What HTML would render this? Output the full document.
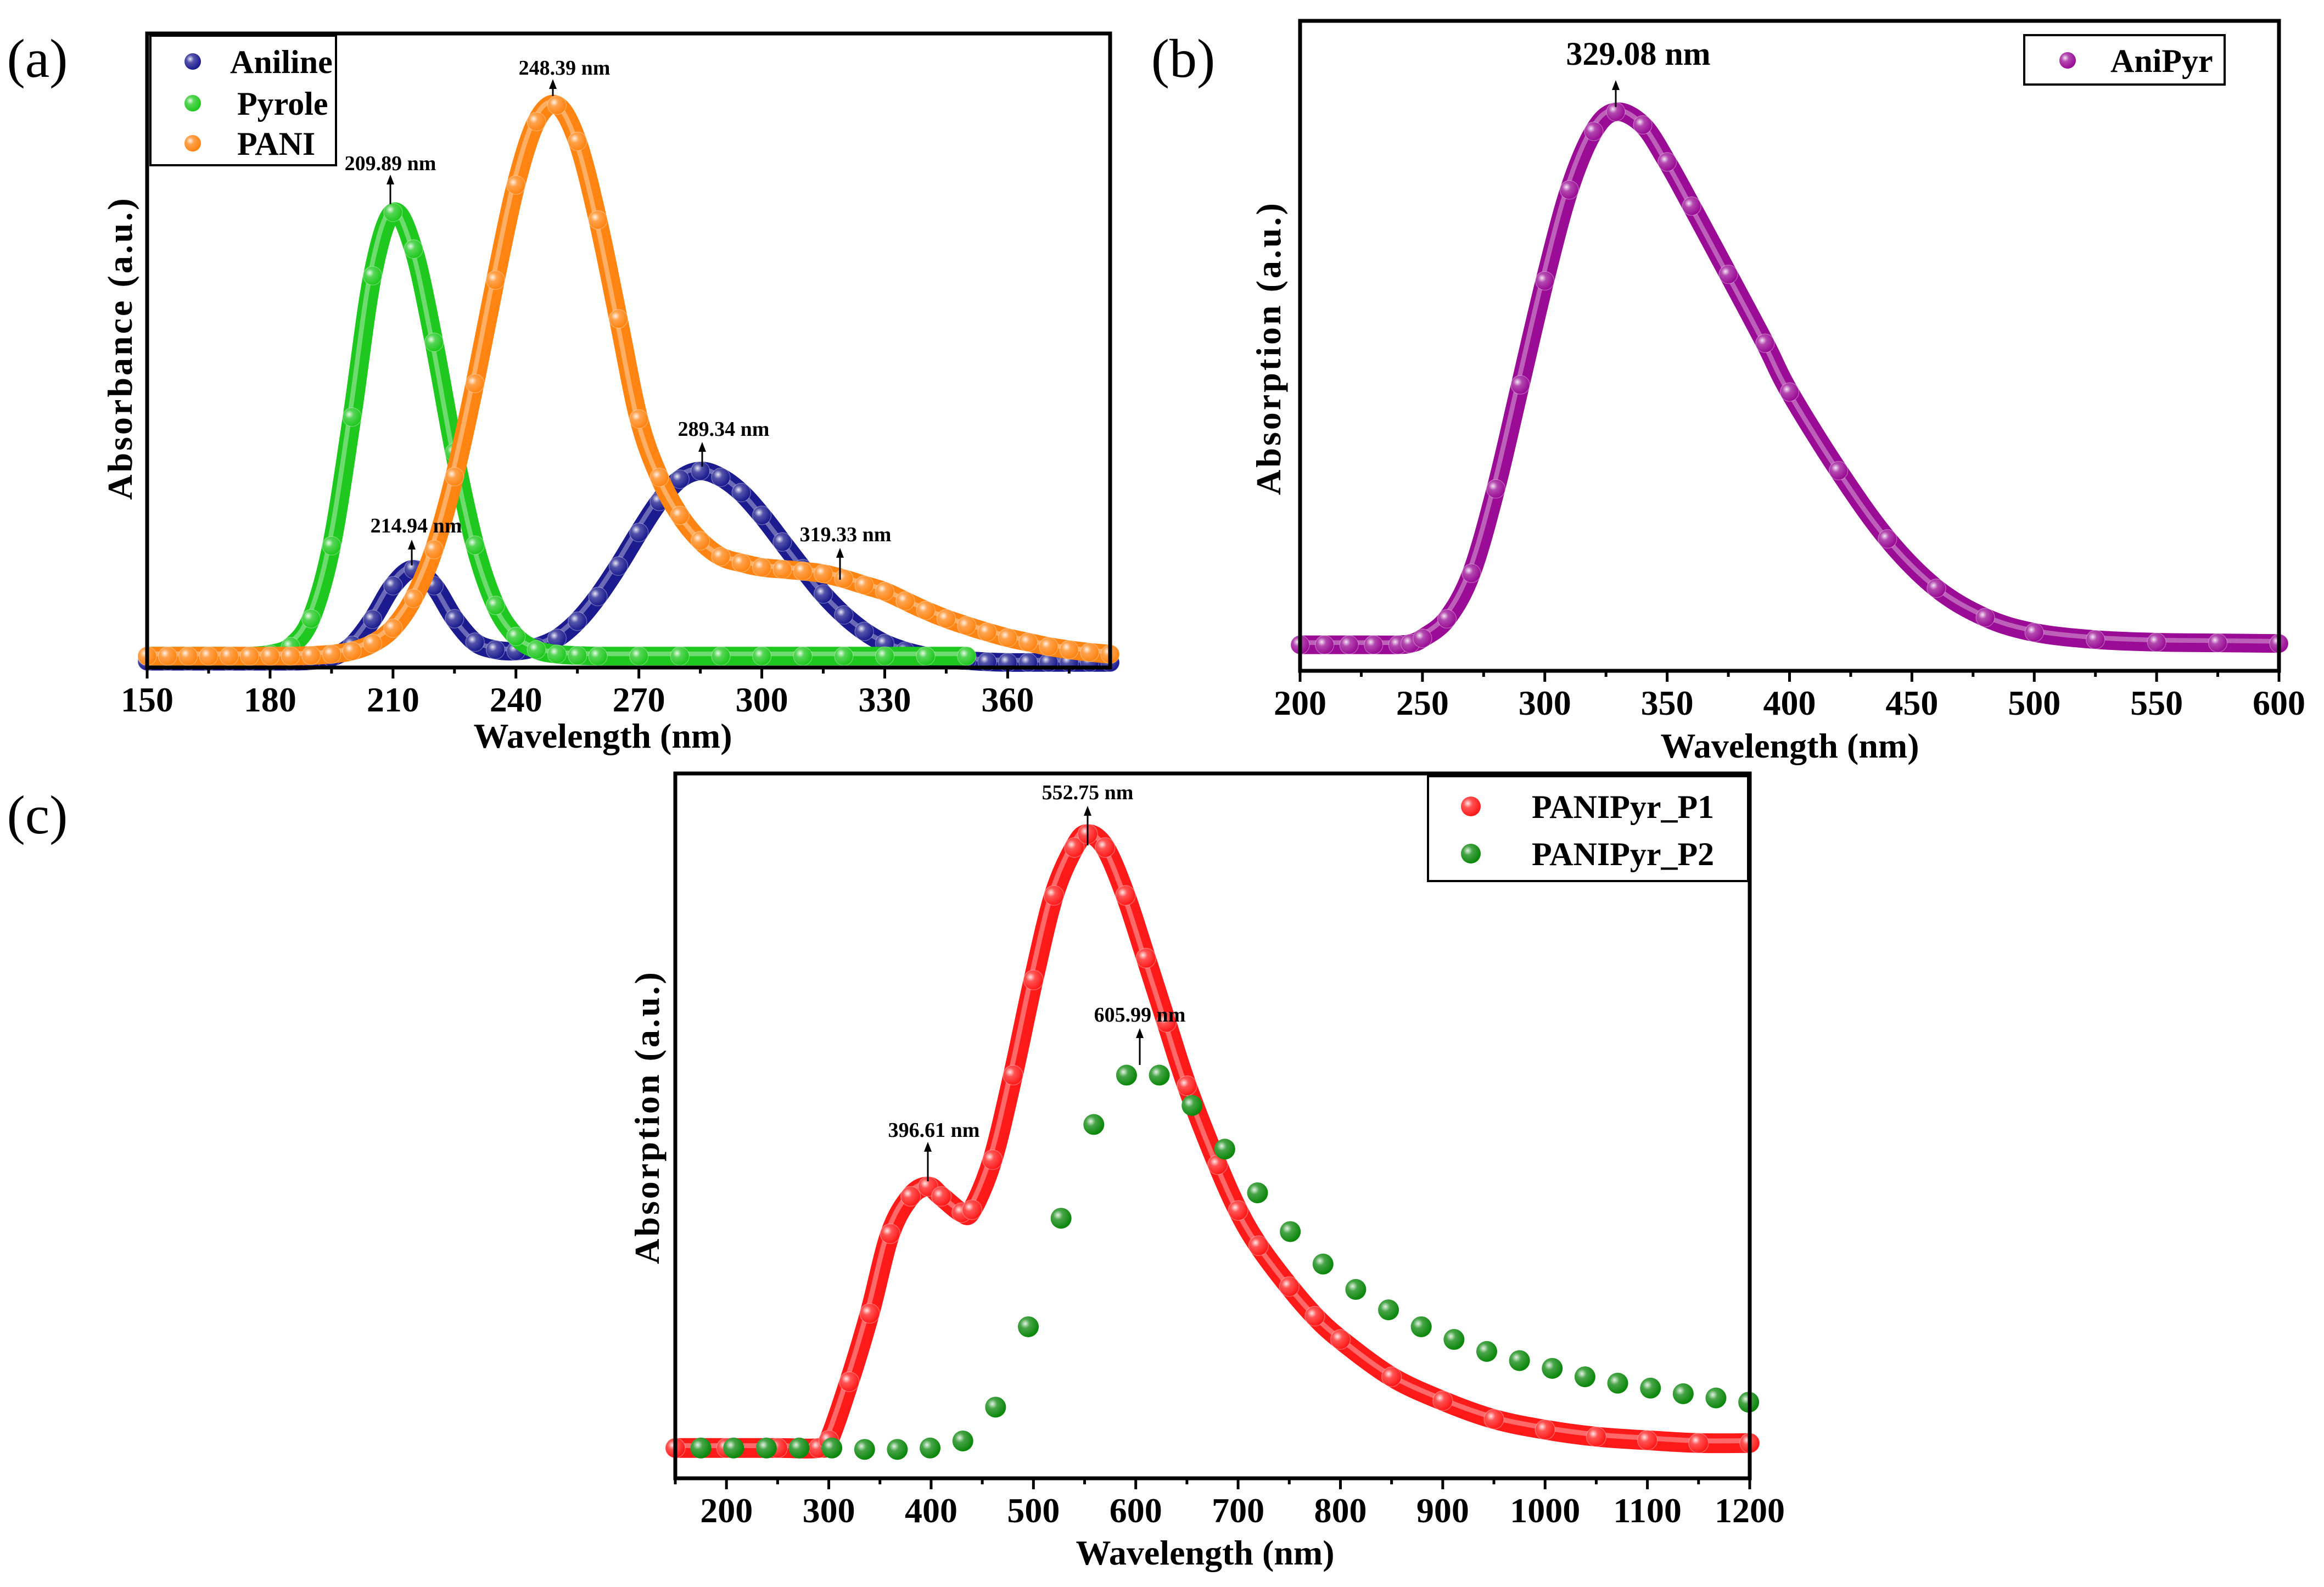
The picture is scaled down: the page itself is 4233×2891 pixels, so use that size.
<!DOCTYPE html>
<html><head><meta charset="utf-8">
<style>
html,body{margin:0;padding:0;background:#fff;}
svg{display:block;font-family:"Liberation Serif",serif;}
.tk{font-size:64px;font-weight:bold;}
.ttl{font-size:64px;font-weight:bold;}
.ann{font-size:38px;font-weight:bold;}
.lg{font-size:60px;font-weight:bold;}
.pl{font-size:100px;}
</style></head>
<body>
<svg id="fig" width="4233" height="2891" viewBox="0 0 4233 2891" xmlns="http://www.w3.org/2000/svg">
<defs>
<radialGradient id="hl" cx="0.35" cy="0.35" r="0.65">
<stop offset="0" stop-color="#fff" stop-opacity="0.9"/>
<stop offset="0.35" stop-color="#fff" stop-opacity="0.25"/>
<stop offset="1" stop-color="#fff" stop-opacity="0"/>
</radialGradient>
</defs>
<g id="pa"></g>
<g id="pb"></g>
<g id="pc"></g>
</svg>
<script>
// ---------- Panel (a) data ----------
const aX = [150,155,160,165,170,175,180,185,190,195,200,205,210,215,220,225,230,235,240,245,250,255,260,265,270,275,280,285,290,295,300,305,310,315,320,325,330,335,340,345,350,355,360,365,370,375,380,385];
const anilineY = [0.01,0.01,0.01,0.01,0.01,0.01,0.01,0.01,0.011,0.016,0.035,0.076,0.129,0.155,0.129,0.077,0.04,0.028,0.026,0.032,0.046,0.073,0.112,0.16,0.213,0.262,0.297,0.31,0.30,0.276,0.24,0.198,0.156,0.116,0.083,0.057,0.038,0.026,0.018,0.013,0.011,0.009,0.008,0.008,0.008,0.008,0.008,0.008];
const pyrX = [150,155,160,165,170,175,180,185,190,195,200,205,210,215,220,225,230,235,240,245,250,255,260,270,280,290,300,310,320,330,340,350];
const pyroleY = [0.018,0.018,0.018,0.018,0.018,0.018,0.021,0.033,0.077,0.192,0.395,0.618,0.718,0.66,0.513,0.339,0.193,0.098,0.049,0.028,0.021,0.019,0.018,0.018,0.018,0.018,0.018,0.018,0.018,0.018,0.018,0.018];
const paniY = [0.018,0.018,0.018,0.018,0.018,0.018,0.018,0.018,0.019,0.021,0.026,0.038,0.062,0.109,0.186,0.301,0.448,0.611,0.761,0.861,0.887,0.83,0.706,0.55,0.392,0.30,0.24,0.20,0.175,0.165,0.158,0.155,0.152,0.148,0.14,0.13,0.12,0.105,0.09,0.077,0.066,0.056,0.047,0.04,0.033,0.028,0.024,0.021];
const aTicks = [150,180,210,240,270,300,330,360];
// ---------- Panel (b) data ----------
const bX = [200,210,220,230,240,245,250,260,270,280,290,300,310,320,329,340,350,360,375,390,400,420,440,460,480,500,525,550,575,600];
const aniPyrY = [0.04,0.04,0.04,0.04,0.04,0.042,0.05,0.08,0.15,0.28,0.44,0.60,0.74,0.83,0.86,0.84,0.783,0.715,0.61,0.504,0.429,0.308,0.203,0.127,0.082,0.059,0.048,0.044,0.043,0.042];
const bTicks = [200,250,300,350,400,450,500,550,600];
// ---------- Panel (c) data ----------
const cX1 = [150,200,250,290,300,320,340,360,380,397,410,430,440,460,480,500,520,540,553,570,590,610,630,650,680,700,720,750,775,800,850,900,950,1000,1050,1100,1150,1200];
const p1Y = [0.043,0.043,0.043,0.043,0.054,0.137,0.234,0.347,0.40,0.414,0.40,0.377,0.381,0.452,0.572,0.707,0.827,0.895,0.914,0.895,0.827,0.738,0.647,0.557,0.445,0.38,0.33,0.272,0.23,0.197,0.144,0.11,0.084,0.069,0.059,0.054,0.05,0.05];
const cX2 = [175,207,239,271,303,335,367,399,431,463,495,527,559,591,623,655,687,719,751,783,815,847,879,911,943,975,1007,1039,1071,1103,1135,1167,1199];
const p2Y = [0.043,0.043,0.043,0.043,0.043,0.041,0.041,0.043,0.053,0.101,0.215,0.369,0.502,0.572,0.572,0.529,0.467,0.405,0.350,0.304,0.268,0.239,0.215,0.197,0.180,0.167,0.156,0.144,0.135,0.128,0.120,0.114,0.108];
const cTicks = [200,300,400,500,600,700,800,900,1000,1100,1200];

const NS = "http://www.w3.org/2000/svg";
function mk(parent, tag, attrs){const e=document.createElementNS(NS,tag);for(const k in attrs)e.setAttribute(k,attrs[k]);parent.appendChild(e);return e;}
function axisFn(d0,d1,p0,p1){return v=>p0+(v-d0)/(d1-d0)*(p1-p0);}
function smoothPath(pts){
  let d="M"+pts[0][0].toFixed(1)+","+pts[0][1].toFixed(1);
  for(let i=0;i<pts.length-1;i++){
    const p0=pts[Math.max(0,i-1)],p1=pts[i],p2=pts[i+1],p3=pts[Math.min(pts.length-1,i+2)];
    const c1=[p1[0]+(p2[0]-p0[0])/6,p1[1]+(p2[1]-p0[1])/6];
    const c2=[p2[0]-(p3[0]-p1[0])/6,p2[1]-(p3[1]-p1[1])/6];
    d+=" C"+c1[0].toFixed(1)+","+c1[1].toFixed(1)+" "+c2[0].toFixed(1)+","+c2[1].toFixed(1)+" "+p2[0].toFixed(1)+","+p2[1].toFixed(1);
  }
  return d;
}
function frame(g,L,T,R,B,ticks,minorStep,xs,name){
  const r=mk(g,"rect",{x:L,y:T,width:R-L,height:B-T,fill:"none",stroke:"#000","stroke-width":7});
  
  
  for(let v=ticks[0]-minorStep*Math.floor((ticks[0]-xs.inv(L))/minorStep); xs(v)<=R+1; v+=minorStep){
    if(xs(v)<L-1) continue;
    const major=ticks.includes(v);
    const t=mk(g,"line",{x1:xs(v),x2:xs(v),y1:B,y2:B+(major?20:11),stroke:"#000","stroke-width":5});
    
    
  }
  ticks.forEach(v=>{
    const t=mk(g,"text",{x:xs(v),y:B+80,"text-anchor":"middle",class:"tk"});
    t.textContent=v;
    
    
  });
}
function series(g,xs,ys,X,Y,color,w,name,dots){
  const pts=X.map((x,i)=>[xs(x),ys(Y[i])]);
  const p=mk(g,"path",{d:smoothPath(pts),fill:"none",stroke:color,"stroke-width":w,"stroke-linecap":"round","stroke-linejoin":"round"});
  
  
  const p2=mk(g,"path",{d:smoothPath(pts.map(q=>[q[0]-w*0.12,q[1]-w*0.12])),fill:"none",stroke:"#fff","stroke-opacity":0.35,"stroke-width":w*0.25,"stroke-linecap":"round"});
  
  
  if(dots){pts.forEach(q=>{
    const c=mk(g,"circle",{cx:q[0],cy:q[1],r:w/2,fill:color,stroke:"#fff","stroke-opacity":0.3,"stroke-width":1.5});
    
    
    const h=mk(g,"circle",{cx:q[0],cy:q[1],r:w/2,fill:"url(#hl)"});
    
    
  });}
}
function scatter(g,xs,ys,X,Y,color,r,name){
  X.forEach((x,i)=>{
    const c=mk(g,"circle",{cx:xs(x),cy:ys(Y[i]),r:r,fill:color});
    
    
    const h=mk(g,"circle",{cx:xs(x),cy:ys(Y[i]),r:r,fill:"url(#hl)"});
    
    
  });
}
function text(g,x,y,s,cls,name,extra){
  const t=mk(g,"text",Object.assign({x:x,y:y,"text-anchor":"middle",class:cls},extra||{}));
  t.textContent=s;
  
  
  return t;
}
function arrow(g,x,y1,y2,name){
  const a=mk(g,"line",{x1:x,x2:x,y1:y1,y2:y2+14,stroke:"#000","stroke-width":3});
  
  
  const h=mk(g,"polygon",{points:(x-7)+","+(y2+18)+" "+x+","+y2+" "+(x+7)+","+(y2+18),fill:"#000"});
  
  
}
function legendEntry(g,mx,ty,label,color,r,tx,name){
  const c=mk(g,"circle",{cx:mx,cy:ty,r:r,fill:color});
  
  
  const h=mk(g,"circle",{cx:mx,cy:ty,r:r,fill:"url(#hl)"});
  
  
  text(g,tx,ty+21,label,"lg",name+'-label',{"text-anchor":"start"});
}

// ===== Panel a =====
(function(){
  const g=document.getElementById("pa");
  const L=268,R=2022,T=61,B=1216;
  const xs=axisFn(150,385,L,R); xs.inv=p=>150+(p-L)/(R-L)*235;
  const ys=axisFn(0,1,B,B-1155);
  series(g,xs,ys,aX,anilineY,"#1b1b8f",34,"aniline",true);
  series(g,xs,ys,pyrX,pyroleY,"#1fc81f",34,"pyrole",true);
  series(g,xs,ys,aX,paniY,"#ff8412",34,"pani",true);
  frame(g,L,T,R,B,aTicks,15,xs,"a");
  text(g,1098,1362,"Wavelength (nm)","ttl","a-x-axis-title");
  text(g,0,0,"Absorbance (a.u.)","ttl","a-y-axis-title",{transform:"translate(240,634) rotate(-90)","letter-spacing":"4"});
  text(g,68,140,"(a)","pl","panel-a-label");
  const lb=mk(g,"rect",{x:274,y:65,width:338,height:236,fill:"#fff",stroke:"#000","stroke-width":4});
  
  legendEntry(g,351,112,"Aniline","#1b1b8f",15,419,"legend-aniline");
  legendEntry(g,351,188,"Pyrole","#1fc81f",15,432,"legend-pyrole");
  legendEntry(g,351,261,"PANI","#ff8412",15,432,"legend-pani");
  text(g,711,310,"209.89 nm","ann","a-annotation-209");arrow(g,711,372,318,"a-arrow-209");
  text(g,1028,136,"248.39 nm","ann","a-annotation-248");arrow(g,1007,175,144,"a-arrow-248");
  text(g,1318,794,"289.34 nm","ann","a-annotation-289");arrow(g,1279,850,805,"a-arrow-289");
  text(g,758,970,"214.94 nm","ann","a-annotation-214");arrow(g,750,1030,983,"a-arrow-214");
  text(g,1540,986,"319.33 nm","ann","a-annotation-319");arrow(g,1530,1056,998,"a-arrow-319");
})();
// ===== Panel b =====
(function(){
  const g=document.getElementById("pb");
  const L=2368,R=4151,T=38,B=1222;
  const xs=axisFn(200,600,L,R); xs.inv=p=>200+(p-L)/(R-L)*400;
  const ys=axisFn(0,1,B,B-1184);
  series(g,xs,ys,bX,aniPyrY,"#9a0c95",34,"anipyr",true);
  frame(g,L,T,R,B,bTicks,25,xs,"b");
  text(g,3260,1380,"Wavelength (nm)","ttl","b-x-axis-title");
  text(g,0,0,"Absorption (a.u.)","ttl","b-y-axis-title",{transform:"translate(2332,634) rotate(-90)","letter-spacing":"4"});
  text(g,2155,140,"(b)","pl","panel-b-label");
  const lb=mk(g,"rect",{x:3687,y:64,width:365,height:90,fill:"#fff",stroke:"#000","stroke-width":4});
  
  legendEntry(g,3766,110,"AniPyr","#9a0c95",15,3844,"legend-anipyr");
  text(g,2984,118,"329.08 nm","ttl","b-annotation-329",{style:"font-size:60px"});arrow(g,2943,195,146,"b-arrow-329");
})();
// ===== Panel c =====
(function(){
  const g=document.getElementById("pc");
  const L=1230,R=3187,T=1409,B=2693;
  const xs=axisFn(150,1200,L,R); xs.inv=p=>150+(p-L)/(R-L)*1050;
  const ys=axisFn(0,1,B,B-1284);
  series(g,xs,ys,cX1,p1Y,"#ff1a1a",36,"panipyr-p1",true);
  scatter(g,xs,ys,cX2,p2Y,"#0b870b",19,"panipyr-p2");
  frame(g,L,T,R,B,cTicks,50,xs,"c");
  text(g,2195,2850,"Wavelength (nm)","ttl","c-x-axis-title");
  text(g,0,0,"Absorption (a.u.)","ttl","c-y-axis-title",{transform:"translate(1200,2035) rotate(-90)","letter-spacing":"4"});
  text(g,68,1518,"(c)","pl","panel-c-label");
  const lb=mk(g,"rect",{x:2601,y:1414,width:583,height:191,fill:"#fff",stroke:"#000","stroke-width":4});
  
  legendEntry(g,2679,1469,"PANIPyr_P1","#ff1a1a",18,2790,"legend-p1");
  legendEntry(g,2679,1555,"PANIPyr_P2","#0b870b",18,2790,"legend-p2");
  text(g,1981,1456,"552.75 nm","ann","c-annotation-552");arrow(g,1981,1540,1468,"c-arrow-552");
  text(g,2076,1861,"605.99 nm","ann","c-annotation-605");arrow(g,2076,1940,1873,"c-arrow-605");
  text(g,1701,2071,"396.61 nm","ann","c-annotation-396");arrow(g,1690,2152,2080,"c-arrow-396");
})();
</script>
</body></html>
